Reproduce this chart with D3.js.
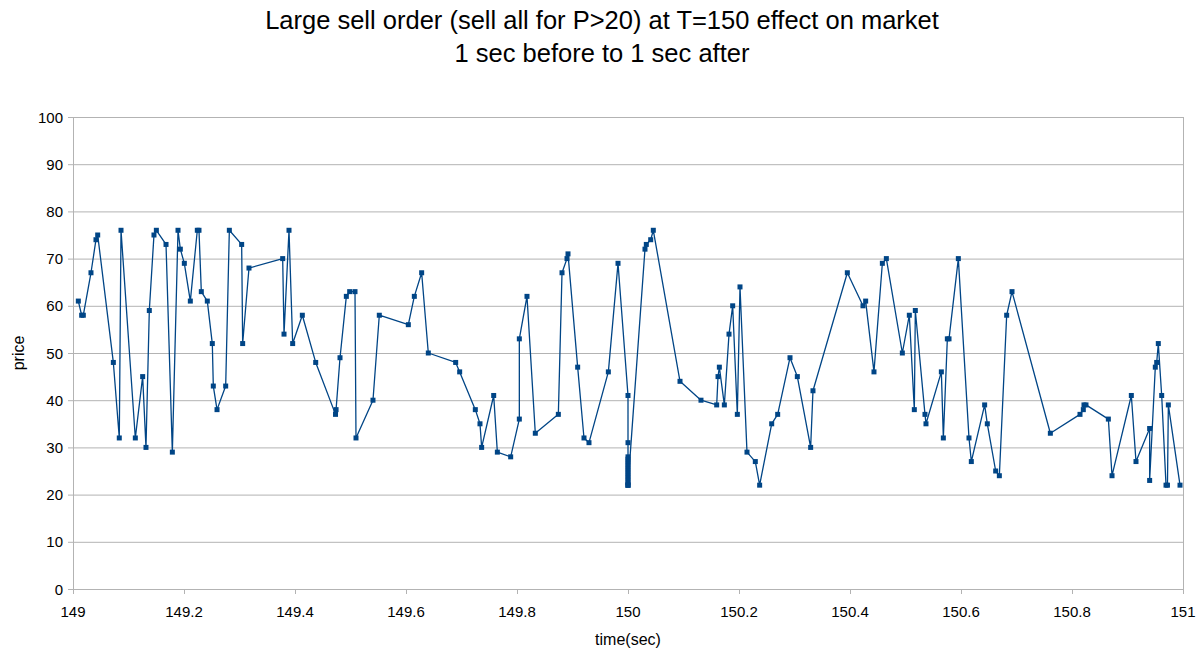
<!DOCTYPE html>
<html><head><meta charset="utf-8">
<script src="https://cdn.jsdelivr.net/npm/d3@7"></script>
<style>body{margin:0;background:#fff;font-family:"Liberation Sans",Arial,sans-serif;}</style>
</head><body><svg id="c" width="1202" height="656"></svg>
<script>
const titleLines = ["Large sell order (sell all for P>20) at T=150 effect on market", "1 sec before to 1 sec after"];
const xLabel = "time(sec)";
const yLabel = "price";
const xTicks = [149, 149.2, 149.4, 149.6, 149.8, 150, 150.2, 150.4, 150.6, 150.8, 151];
const yTicks = [0,10,20,30,40,50,60,70,80,90,100];
const times = [149.0096,149.0156,149.0186,149.0324,149.0414,149.0445,149.0727,149.0834,149.0865,149.1123,
149.1255,149.1315,149.1375,149.1459,149.1502,149.1676,149.1790,149.1892,149.1934,149.2006,
149.2114,149.2240,149.2270,149.2312,149.2420,149.2510,149.2528,149.2595,149.2751,149.2817,
149.3039,149.3057,149.3171,149.3778,149.3802,149.3892,149.3958,149.4132,149.4373,149.4730,
149.4740,149.4811,149.4925,149.4985,149.5081,149.5099,149.5405,149.5519,149.6042,149.6150,
149.6282,149.6402,149.6895,149.6967,149.7249,149.7333,149.7363,149.7580,149.7646,149.7886,
149.8042,149.8042,149.8180,149.8330,149.8745,149.8811,149.8901,149.8919,149.9093,149.9207,
149.9297,149.9646,149.9820,150.0000,150.0000,150.0000,150.0000,150.0000,150.0000,150.0000,
150.0000,150.0000,150.0000,150.0000,150.0000,150.0000,150.0000,150.0000,150.0000,150.0000,
150.0306,150.0330,150.0409,150.0456,150.0937,150.1315,150.1598,150.1622,
150.1646,150.1736,150.1820,150.1886,150.1970,150.2018,150.2144,150.2294,150.2372,150.2589,
150.2697,150.2919,150.3051,150.3291,150.3333,150.3952,150.4234,150.4282,150.4432,150.4583,
150.4655,150.4943,150.5069,150.5159,150.5177,150.5351,150.5369,150.5646,150.5682,150.5754,
150.5784,150.5952,150.6144,150.6186,150.6426,150.6474,150.6625,150.6691,150.6823,150.6919,
150.7610,150.8144,150.8204,150.8216,150.8252,150.8655,150.8721,150.9069,150.9153,150.9399,
150.9399,150.9501,150.9526,150.9555,150.9616,150.9694,150.9720,150.9736,150.9946];
const prices = [61,58,58,67,74,75,48,32,76,32,
45,30,59,75,76,73,29,76,72,69,
61,76,76,63,61,52,43,38,43,76,
73,52,68,70,54,76,52,58,48,37,
38,49,62,63,63,32,40,58,56,62,
67,50,48,46,38,35,30,41,29,28,
36,53,62,33,37,67,70,71,47,32,
31,46,69,41,31,28,27.5,27,26.5,26,
25.5,25,24.5,24,23.5,23,22.5,22,22,22,
72,73,74,76,44,40,39,45,
47,39,54,60,37,64,29,27,22,35,
37,49,45,30,42,67,60,61,46,69,
70,50,58,38,59,37,35,46,32,53,
53,70,32,27,39,35,25,24,58,63,
33,37,38,39,39,36,24,41,27,34,
23,47,48,52,41,22,22,39,22];

const svg = d3.select("#c");
const L = 73, R = 1183, T = 117, B = 589;
const x = d3.scaleLinear().domain([149,151]).range([L,R]);
const y = d3.scaleLinear().domain([0,100]).range([B,T]);
const grid = "#b3b3b3";
const col = "#004586";

svg.append("g").selectAll("line").data(yTicks).join("line")
  .attr("x1", L-5).attr("x2", R).attr("y1", d=>y(d)+0.5).attr("y2", d=>y(d)+0.5)
  .attr("stroke", grid).attr("stroke-width",1);
svg.append("line").attr("x1",L+0.5).attr("x2",L+0.5).attr("y1",T).attr("y2",B+5).attr("stroke",grid);
svg.append("line").attr("x1",R+0.5).attr("x2",R+0.5).attr("y1",T).attr("y2",B).attr("stroke",grid);
svg.append("g").selectAll("line").data(xTicks).join("line")
  .attr("x1", d=>Math.round(x(d))+0.5).attr("x2", d=>Math.round(x(d))+0.5)
  .attr("y1", B).attr("y2", B+5).attr("stroke", grid);

svg.append("g").selectAll("text").data(yTicks).join("text")
  .attr("x", L-10).attr("y", d=>y(d)+5.5).attr("text-anchor","end")
  .attr("font-size",15).attr("fill","#000").text(d=>d);
svg.append("g").selectAll("text").data(xTicks).join("text")
  .attr("x", d=>x(d)).attr("y", B+28).attr("text-anchor","middle")
  .attr("font-size",15).attr("fill","#000").text(d=>d3.format("")(+d.toFixed(1)));

svg.append("text").attr("x", (L+R)/2).attr("y", 645).attr("text-anchor","middle")
  .attr("font-size",16).text(xLabel);
svg.append("text").attr("transform",`translate(24,${(T+B)/2}) rotate(-90)`).attr("text-anchor","middle")
  .attr("font-size",16).text(yLabel);

svg.append("g").selectAll("text").data(titleLines).join("text")
  .attr("x", 602).attr("y",(d,i)=>29+i*33).attr("text-anchor","middle")
  .attr("font-size",25.5).text(d=>d);

const pts = times.map((t,i)=>[t,prices[i]]);
svg.append("path").datum(pts)
  .attr("fill","none").attr("stroke",col).attr("stroke-width",1.3).attr("stroke-linejoin","round")
  .attr("d", d3.line().x(d=>x(d[0])).y(d=>y(d[1])));
svg.append("g").selectAll("rect").data(pts).join("rect")
  .attr("x", d=>x(d[0])-2.5).attr("y", d=>y(d[1])-2.5).attr("width",5).attr("height",5)
  .attr("fill",col);
</script>
</body></html>
